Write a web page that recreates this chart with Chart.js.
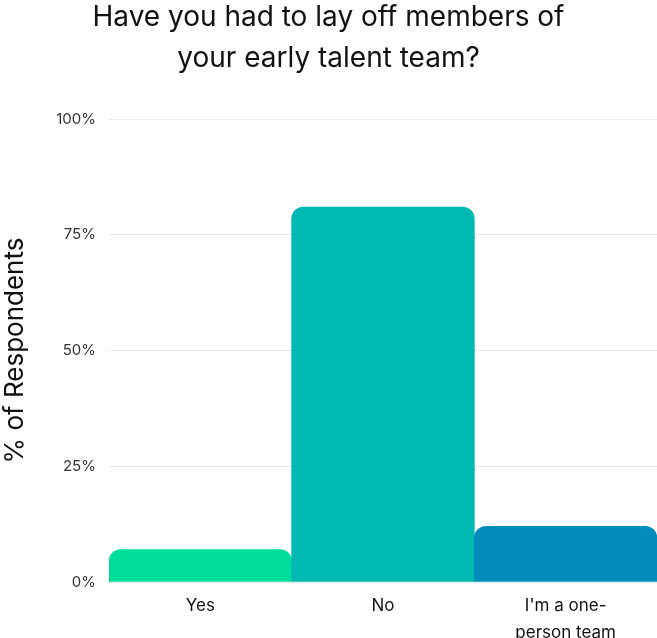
<!DOCTYPE html>
<html>
<head>
<meta charset="utf-8">
<script src="https://cdn.jsdelivr.net/npm/chart.js@4"></script>
<style>
html,body{margin:0;padding:0;background:#fff;}
#wrap{width:657px;height:638px;position:relative;}
</style>
</head>
<body>
<div id="wrap"><canvas id="c" width="657" height="638"></canvas></div>
<script>
const categories = ["Yes", "No", ["I'm a one-", "person team"]];
const values = [7, 81, 12];
const barColors = ["#00DD99", "#00B9B2", "#008DBA"];
const yTicks = [0, 25, 50, 75, 100];
const titleLines = ["Have you had to lay off members of", "your early talent team?"];
const yTitle = "% of Respondents";

new Chart(document.getElementById('c'), {
  type: 'bar',
  data: {
    labels: categories,
    datasets: [{
      data: values,
      backgroundColor: barColors,
      borderRadius: {topLeft: 12, topRight: 12, bottomLeft: 0, bottomRight: 0},
      borderSkipped: false,
      categoryPercentage: 1,
      barPercentage: 1
    }]
  },
  options: {
    responsive: false,
    animation: false,
    layout: {padding: {left: 0, right: 0, top: 0, bottom: -18}},
    plugins: {
      legend: {display: false},
      tooltip: {enabled: false},
      title: {
        display: true,
        text: titleLines,
        color: '#111',
        font: {family: 'Inter', size: 28, weight: '400', lineHeight: '41px'},
        padding: {top: -3, bottom: 40}
      }
    },
    scales: {
      x: {
        grid: {display: false, drawTicks: false},
        border: {display: false},
        ticks: {color: '#111', font: {family: 'Inter', size: 17, lineHeight: '27px'}, maxRotation: 0, padding: 10}
      },
      y: {
        min: 0, max: 100,
        afterBuildTicks: (axis) => { axis.ticks = yTicks.map(v => ({value: v})); },
        grid: {color: '#e8e8e8', drawTicks: false},
        border: {display: false},
        ticks: {color: '#333', font: {family: 'Inter', size: 15}, padding: 13, callback: v => v + '%'},
        title: {display: true, text: yTitle, color: '#111', font: {family: 'Inter', size: 26}, padding: {top: 0, bottom: 12}}
      }
    }
  }
});
</script>
</body>
</html>
